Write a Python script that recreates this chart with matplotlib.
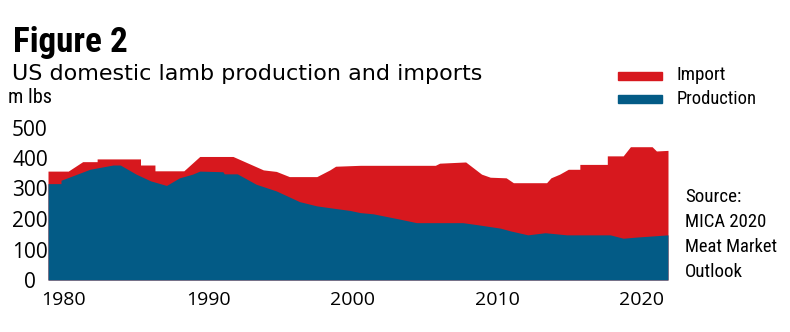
import matplotlib
matplotlib.use("Agg")
import matplotlib.pyplot as plt
import matplotlib.font_manager as fm
from matplotlib.patches import Rectangle

# ---- data (m lbs) ----
total_years = [1978.9, 1980.3, 1981.3, 1982.3, 1982.3, 1985.3, 1985.3, 1986.3, 1986.3,
               1988.3, 1989.4, 1991.7, 1993.8, 1994.7, 1995.6, 1997.5, 1998.4, 1998.8,
               2000.5, 2005.7, 2006.0, 2007.8, 2008.9, 2009.5, 2010.6, 2011.1, 2013.4,
               2013.7, 2014.3, 2014.9, 2015.7, 2015.7, 2017.6, 2017.6, 2018.7, 2019.2,
               2020.7, 2021.0, 2021.8]
total_values = [357, 357, 388, 388, 397, 397, 377, 377, 358,
                358, 405, 405, 361, 356, 339, 339, 361, 373,
                376, 376, 383, 387, 347, 337, 335, 319, 319,
                335, 347, 363, 363, 379, 379, 407, 407, 437,
                437, 423, 425]

prod_years = [1978.9, 1979.8, 1979.8, 1981.8, 1983.4, 1983.9, 1985.0, 1986.0, 1987.1,
              1988.0, 1988.9, 1989.4, 1991.0, 1991.1, 1992.0, 1993.3, 1994.7, 1996.3,
              1997.5, 1998.4, 1999.8, 2000.5, 2001.4, 2003.3, 2004.4, 2007.6, 2008.8,
              2010.2, 2010.9, 2012.1, 2013.3, 2014.8, 2017.8, 2018.7, 2019.7, 2021.8]
prod_values = [316, 316, 327, 363, 377, 377, 347, 325, 310,
               335, 347, 357, 355, 348, 348, 314, 292, 257,
               243, 237, 228, 221, 217, 199, 188, 188, 180,
               170, 161, 148, 155, 148, 148, 137, 141, 148]

y_ticks = [0, 100, 200, 300, 400, 500]
x_ticks = [1980, 1990, 2000, 2010, 2020]
series_labels = ["Import", "Production"]

RED = "#d7181e"
BLUE = "#035b86"

# pick a condensed face if one is installed
entries = fm.fontManager.ttflist
names = {f.name for f in entries}
narrow_kw = {"family": ["DejaVu Sans"]}
for cand in ["Liberation Sans Narrow", "Roboto Condensed", "DejaVu Sans Condensed",
             "Open Sans Condensed", "Noto Sans Condensed"]:
    if cand in names:
        narrow_kw = {"family": [cand, "DejaVu Sans"]}
        break
else:
    for f in entries:
        if f.stretch in ("condensed", "semi-condensed", "extra-condensed") or \
                (isinstance(f.stretch, int) and f.stretch < 500):
            narrow_kw = {"family": [f.name, "DejaVu Sans"], "stretch": f.stretch}
            break
TICKF = ["Open Sans", "DejaVu Sans"]

W, H = 790, 332
fig = plt.figure(figsize=(W / 100, H / 100), dpi=100)
ax = fig.add_axes([48 / W, (H - 280) / H, 620 / W, 152.5 / H])

ax.fill_between(total_years, 0, total_values, color=RED, linewidth=0)
ax.fill_between(prod_years, 0, prod_values, color=BLUE, linewidth=0)

ax.set_xlim(total_years[0], total_years[-1])
ax.set_ylim(0, 500)
for s in ax.spines.values():
    s.set_visible(False)

ax.set_yticks(y_ticks)
ax.set_yticklabels([str(v) for v in y_ticks], fontsize=15, family=TICKF, ha="center")
ax.tick_params(axis="y", length=0, pad=13)
ax.set_xticks(x_ticks)
ax.set_xticklabels([str(v) for v in x_ticks], fontsize=14, family=TICKF)
ax.tick_params(axis="x", length=0, pad=8)

fitted = []  # (text, target width px)

def ntext(x, y, s, size, target, **kw):
    t = fig.text(x / W, 1 - y / H, s, fontsize=size, **narrow_kw, **kw)
    fitted.append((t, target))
    return t

# titles
ntext(13, 52, "Figure 2", 27, 115, fontweight="bold", va="baseline")
fig.text(12 / W, 1 - 80 / H, "US domestic lamb production and imports",
         fontsize=16, family=["DejaVu Sans"], va="baseline")
ntext(8, 103, "m lbs", 14, 44, va="baseline")

# legend
label_w = [50, 80]
for i, (lab, col) in enumerate(zip(series_labels, [RED, BLUE])):
    yc = 75.5 + i * 23.5
    fig.patches.append(Rectangle((618 / W, 1 - (yc + 4) / H), 44 / W, 8 / H,
                                 transform=fig.transFigure, color=col))
    ntext(677, yc, lab, 14, label_w[i], va="center")

# source
src = ["Source:", "MICA 2020", "Meat Market", "Outlook"]
src_w = [57, 82, 93, 58]
for i, line in enumerate(src):
    ntext(685, 197 + 25 * i, line, 14, src_w[i], va="center")

# fit the narrow texts to the widths seen in the reference
fig.canvas.draw()
r = fig.canvas.get_renderer()
for t, target in fitted:
    w = t.get_window_extent(r).width
    if w > 0:
        t.set_fontsize(t.get_fontsize() * target / w)

fig.savefig("out.png", dpi=100)
